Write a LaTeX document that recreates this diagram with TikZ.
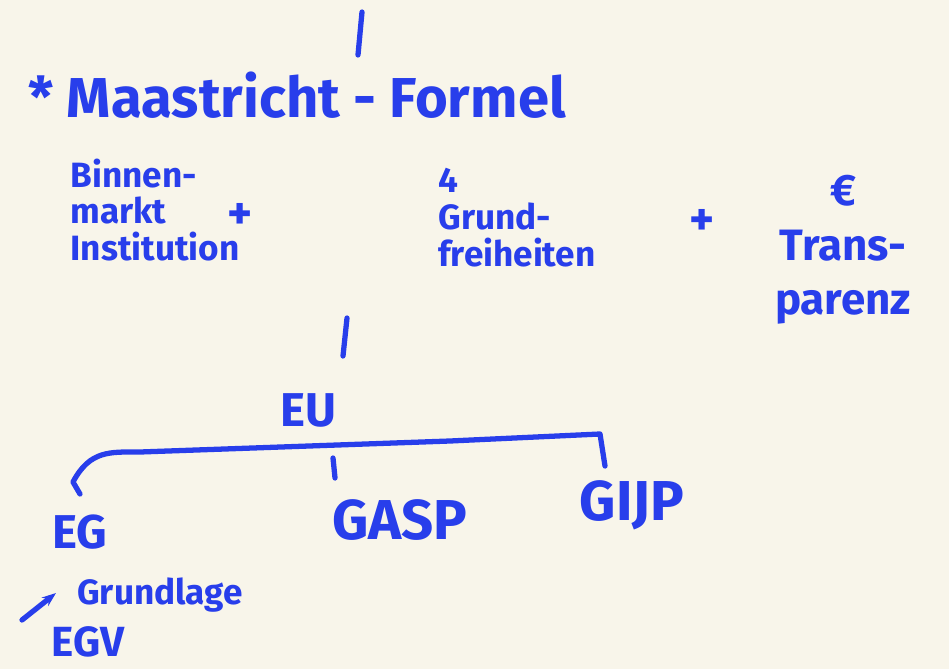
\documentclass[tikz,border=0pt]{standalone}
\usepackage{fontspec}
\setmainfont{Fira Sans}
\usepackage{tikz}
\usetikzlibrary{arrows.meta,positioning}
\definecolor{inkblue}{RGB}{40,62,235}
\definecolor{paper}{RGB}{248,245,234}
\begin{document}
\begin{tikzpicture}[x=0.02cm,y=-0.02cm]
                    \tikzset{ink/.style={inkblue, line width=3pt, line cap=round, line join=round},
                             hand/.style={text=inkblue, inner sep=0pt, font=\fontsize{20}{21}\selectfont\bfseries, align=left},
                             bighand/.style={hand, font=\fontsize{27}{28}\selectfont\bfseries},
                             hugehand/.style={hand, font=\fontsize{32}{33}\selectfont\bfseries}}
                    \fill [paper] (0,0) rectangle (949,669);
                    \useasboundingbox (0,0) rectangle (949,669);
                    % top line
                    \coordinate (top) at (362,12);
                    \coordinate (topb) at (358,55);
                    \node [hugehand] (maas) at (297,95) {* Maastricht - Formel};
                    \draw [ink] (top) -- (topb);
                    % the three parts
                    \node [hand] (binnen) at (155,210) {Binnen-\\markt\\Institution};
                    \node [bighand] (plusa) at (240,216) {+};
                    \node [hand, align=left] (grund) at (517,218) {4\\Grund-\\freiheiten};
                    \node [bighand] (plusb) at (702,222) {+};
                    \node [hand, font=\fontsize{25}{31}\selectfont\bfseries, align=center] (trans) at (843,250) {€\\Trans-\\parenz};
                    % EU and its pillars
                    \node [bighand] (eu) at (308,410) {EU};
                    \coordinate (link) at (347,318);
                    \coordinate (linkb) at (343,356);
                    \draw [ink] (link) -- (linkb);
                    \node [bighand] (eg) at (80,532) {EG};
                    \node [hugehand] (gasp) at (400,520) {GASP};
                    \node [hugehand] (gijp) at (632,505) {GIJP};
                    \coordinate (left) at (80,494);
                    \coordinate (right) at (605,466);
                    \draw [ink] (left) -- (73,482) .. controls (90,450) and (110,452) .. (140,452)
                                -- (450,441) -- (600,434) -- (right);
                    \draw [ink] (333,458) -- (335,478);
                    % EG basis
                    \coordinate (arr) at (22,620);
                    \coordinate (arrb) at (56,593);
                    \node [hand] (grundlage) at (160,595) {Grundlage};
                    \node [hand, font=\fontsize{24}{25}\selectfont\bfseries] (egv) at (88,642) {EGV};
                    \draw [ink, -{Stealth[length=8pt]}] (arr) -- (arrb);
                \end{tikzpicture}
\end{document}
